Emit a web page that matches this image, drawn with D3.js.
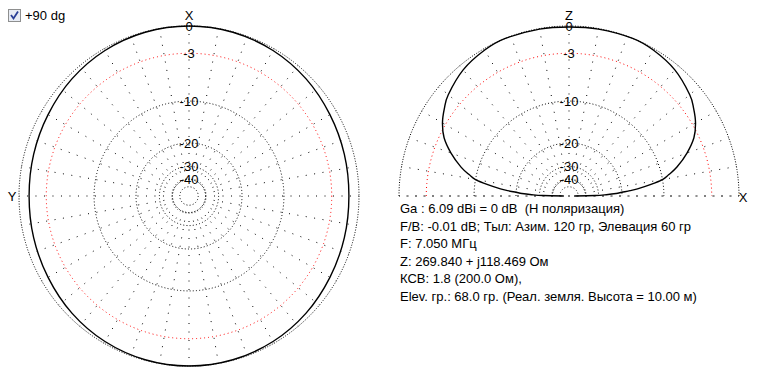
<!DOCTYPE html>
<html>
<head>
<meta charset="utf-8">
<script src="https://cdn.jsdelivr.net/npm/d3@7"></script>
<style>
  body { margin: 0; background: #fff; }
  svg text { font-family: "Liberation Sans", Arial, sans-serif; font-size: 13px; fill: #000; white-space: pre; }
</style>
</head>
<body>
<div id="chart"></div>
<script>
// Rings (dB) and their labels
const ringDb = [0, -3, -10, -20, -30, -40, -50];
const ringLabels = ["0", "-3", "-10", "-20", "-30", "-40"];

// Azimuth pattern, angle clockwise from X (top)
const azAngles = [0, 15, 30, 45, 60, 75, 90, 105, 120, 135, 150, 165, 180, 195, 210, 225, 240, 255, 270, 285, 300, 315, 330, 345];
const azGain   = [0, -0.05, -0.2, -0.45, -0.75, -0.95, -1.05, -0.95, -0.75, -0.45, -0.2, -0.05, 0, -0.05, -0.2, -0.45, -0.75, -0.95, -1.05, -0.95, -0.75, -0.45, -0.2, -0.05];

// Elevation pattern, angle from X (right horizon) to the left horizon
const elAngles = [0, 1, 2, 3, 4, 5, 6, 8, 10, 12, 15, 20, 25, 30, 35, 40, 50, 60, 68, 80, 90, 100, 112, 120, 130, 140, 145, 150, 155, 160, 165, 168, 170, 172, 174, 175, 176, 177, 178, 179, 180];
const elGain   = [-60, -32, -26, -22, -20, -17.5, -15.5, -12.5, -10, -8.8, -7.2, -5.2, -3.6, -2.6, -1.9, -1.3, -0.55, -0.15, 0, -0.05, -0.1, -0.05, 0, -0.15, -0.55, -1.3, -1.9, -2.6, -3.6, -5.2, -7.2, -8.8, -10, -12.5, -15.5, -17.5, -20, -22, -26, -32, -60];

// Info text
const infoLines = [
    "Ga : 6.09 dBi = 0 dB  (H поляризация)",
    "F/B: -0.01 dB; Тыл: Азим. 120 гр, Элевация 60 гр",
    "F: 7.050 МГц",
    "Z: 269.840 + j118.469 Ом",
    "КСВ: 1.8 (200.0 Ом),",
    "Elev. гр.: 68.0 гр. (Реал. земля. Высота = 10.00 м)"
];

const width = 758, height = 392;
const R = 170;
const az = { x: 189, y: 196 };
const el = { x: 569, y: 196 };

const svg = d3.select("#chart").append("svg")
    .attr("width", width)
    .attr("height", height);

// ARRL style log scale: 0.89 of radius for each 2 dB
const rLog = d3.scaleLog()
    .domain([R * Math.pow(0.89, 25), R])
    .range([-50, 0]);
const r = db => rLog.invert(db);

const rad = d3.scaleLinear().domain([0, 360]).range([0, 2 * Math.PI]);

function ringStyle(sel, db) {
    sel.attr("fill", "none")
        .attr("stroke", db === -3 ? "#ff0000" : "#000")
        .attr("stroke-width", 1)
        .attr("stroke-dasharray", db === -3 ? "1 3" : (db === 0 ? "1 1.6" : "1 2.2"));
}

/* Azimuth plot */
const gA = svg.append("g").attr("transform", `translate(${az.x},${az.y})`);

ringDb.forEach(db => {
    gA.append("circle").attr("r", r(db)).call(ringStyle, db);
});

d3.range(0, 360, 10).forEach(a => {
    gA.append("line")
        .attr("x1", r(-40) * Math.sin(rad(a))).attr("y1", -r(-40) * Math.cos(rad(a)))
        .attr("x2", R * Math.sin(rad(a))).attr("y2", -R * Math.cos(rad(a)))
        .attr("stroke", "#000")
        .attr("stroke-dasharray", "1 7.5");
});

const azLine = d3.lineRadial()
    .angle(d => rad(d[0]))
    .radius(d => r(d[1]))
    .curve(d3.curveCardinalClosed);

gA.append("path")
    .attr("d", azLine(azAngles.map((a, i) => [a, azGain[i]])))
    .attr("fill", "none")
    .attr("stroke", "#000")
    .attr("stroke-width", 1.4);

/* Elevation plot */
const gE = svg.append("g").attr("transform", `translate(${el.x},${el.y})`);

ringDb.forEach(db => {
    gE.append("path")
        .attr("d", d3.lineRadial().angle(d => d).radius(r(db))(d3.range(-90, 90.5, 1).map(rad)))
        .call(ringStyle, db);
});

d3.range(-90, 91, 10).forEach(a => {
    const inner = (a === -90 || a === 90) ? -R : r(-40);
    gE.append("line")
        .attr("x1", inner * Math.sin(rad(a))).attr("y1", -inner * Math.cos(rad(a)))
        .attr("x2", R * Math.sin(rad(a))).attr("y2", -R * Math.cos(rad(a)))
        .attr("stroke", "#000")
        .attr("stroke-dasharray", "1 7.5");
});

const elLine = d3.lineRadial()
    .angle(d => rad(90 - d[0]))
    .radius(d => r(d[1]))
    .curve(d3.curveCardinal);

gE.append("path")
    .attr("d", elLine(elAngles.map((a, i) => [a, elGain[i]])))
    .attr("fill", "none")
    .attr("stroke", "#000")
    .attr("stroke-width", 1.4);

/* dB labels on both plots */
[gA, gE].forEach(g => {
    ringLabels.forEach((lab, i) => {
        g.append("text")
            .attr("x", 0)
            .attr("y", -r(ringDb[i]))
            .attr("dy", "0.36em")
            .attr("text-anchor", "middle")
            .text(lab);
    });
});

/* Axis letters */
svg.append("text").attr("x", az.x).attr("y", 20).attr("text-anchor", "middle").text("X");
svg.append("text").attr("x", 12).attr("y", az.y + 5).attr("text-anchor", "middle").text("Y");
svg.append("text").attr("x", el.x).attr("y", 20).attr("text-anchor", "middle").text("Z");
svg.append("text").attr("x", 743).attr("y", el.y + 6).attr("text-anchor", "middle").text("X");

/* Checkbox */
svg.append("rect")
    .attr("x", 8.5).attr("y", 9.5).attr("width", 12).attr("height", 12)
    .attr("fill", "#e8ecf4").attr("stroke", "#8e8f8f");
svg.append("path")
    .attr("d", "M11,15 L13.5,18.5 L18,11.5")
    .attr("fill", "none").attr("stroke", "#2a3f96").attr("stroke-width", 1.8);
svg.append("text").attr("x", 25).attr("y", 20).text("+90 dg");

/* Info block */
svg.append("g").selectAll("text")
    .data(infoLines)
    .join("text")
    .attr("x", 400)
    .attr("y", (d, i) => 213 + i * 17.6)
    .text(d => d);
</script>
</body>
</html>
